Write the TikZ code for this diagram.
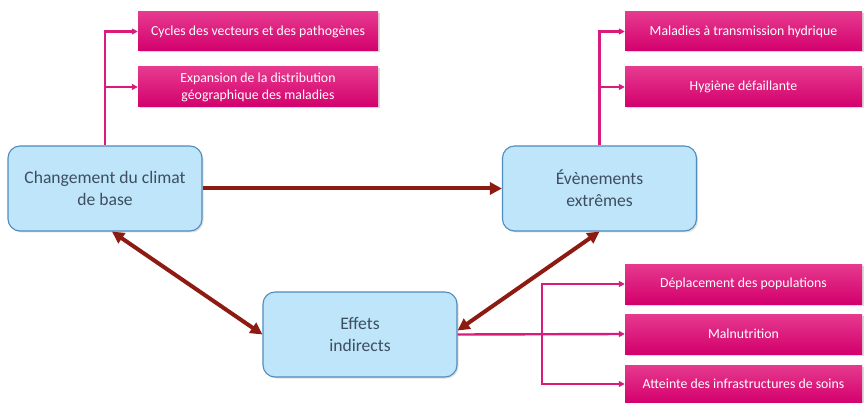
\documentclass[tikz,border=0pt]{standalone}
\usepackage{fontspec}
\setmainfont{Carlito}
\usetikzlibrary{arrows.meta,shadows}
\definecolor{bluefill}{HTML}{BEE5F9}
\definecolor{blueline}{HTML}{4F8DBE}
\definecolor{bluetext}{HTML}{3E4E60}
\definecolor{magtop}{HTML}{E63A8E}
\definecolor{magbot}{HTML}{D3006D}
\definecolor{magline}{HTML}{D81B7C}
\definecolor{darkred}{HTML}{8E1B12}
\begin{document}
\begin{tikzpicture}[x=1pt,y=-1pt,
  bluebox/.style={draw=blueline, line width=1.1pt, fill=bluefill, rounded corners=12pt,
    minimum width=194pt, minimum height=85pt, align=center, text=bluetext,
    font=\fontsize{17.6}{22}\selectfont,
    drop shadow={shadow xshift=1.5pt, shadow yshift=-1.5pt, opacity=0.25}},
  magbox/.style={top color=magtop, bottom color=magbot, draw=none,
    minimum width=237pt, minimum height=39pt, align=center, text=white,
    font=\fontsize{13.8}{17}\selectfont,
    drop shadow={shadow xshift=1.5pt, shadow yshift=-1.5pt, opacity=0.3}},
  magarrow/.style={draw=magline, line width=2.4pt, -{Triangle[length=6pt,width=6pt]}},
  redarrow/.style={draw=darkred, line width=4pt, -{Triangle[length=12pt,width=12pt]}},
  redboth/.style={draw=darkred, line width=4pt, {Triangle[length=12pt,width=12pt]}-{Triangle[length=12pt,width=12pt]}}
]
\useasboundingbox (0,0) rectangle (864,403);
% blue nodes
\node[bluebox] (clim) at (105,188.5) {Changement du climat\\de base};
\node[bluebox] (ev) at (599.5,188.5) {Évènements\\extrêmes};
\node[bluebox] (eff) at (360,334.5) {Effets\\indirects};
% magenta nodes
\node[magbox, minimum width=240pt] (cyc) at (258,31.5) {Cycles des vecteurs et des pathogènes};
\node[magbox, minimum width=240pt, minimum height=40pt] (exp) at (258,87) {Expansion de la distribution\\géographique des maladies};
\node[magbox] (mal) at (743.5,31.5) {Maladies à transmission hydrique};
\node[magbox, minimum height=40pt] (hyg) at (743.5,87) {Hygiène défaillante};
\node[magbox, minimum height=40pt] (dep) at (743.5,284) {Déplacement des populations};
\node[magbox, minimum height=40pt] (maln) at (743.5,334) {Malnutrition};
\node[magbox, minimum height=38pt] (att) at (743.5,384) {Atteinte des infrastructures de soins};
% magenta connectors
\draw[magarrow] (clim.north) |- (cyc.west);
\draw[magarrow] (clim.north) |- (exp.west);
\draw[magarrow] (ev.north) |- (mal.west);
\draw[magarrow] (ev.north) |- (hyg.west);
\coordinate (br) at (542,334.5);
\draw[magarrow] (eff.east) -- (maln.west);
\draw[magarrow] (br) |- (dep.west);
\draw[magarrow] (br) |- (att.west);
% red connectors
\draw[redarrow] (clim.east) -- (ev.west);
\draw[redboth] ([xshift=7pt]clim.south) -- (eff.west);
\draw[redboth] (ev.south) -- ([yshift=4pt]eff.east);
\end{tikzpicture}
\end{document}
